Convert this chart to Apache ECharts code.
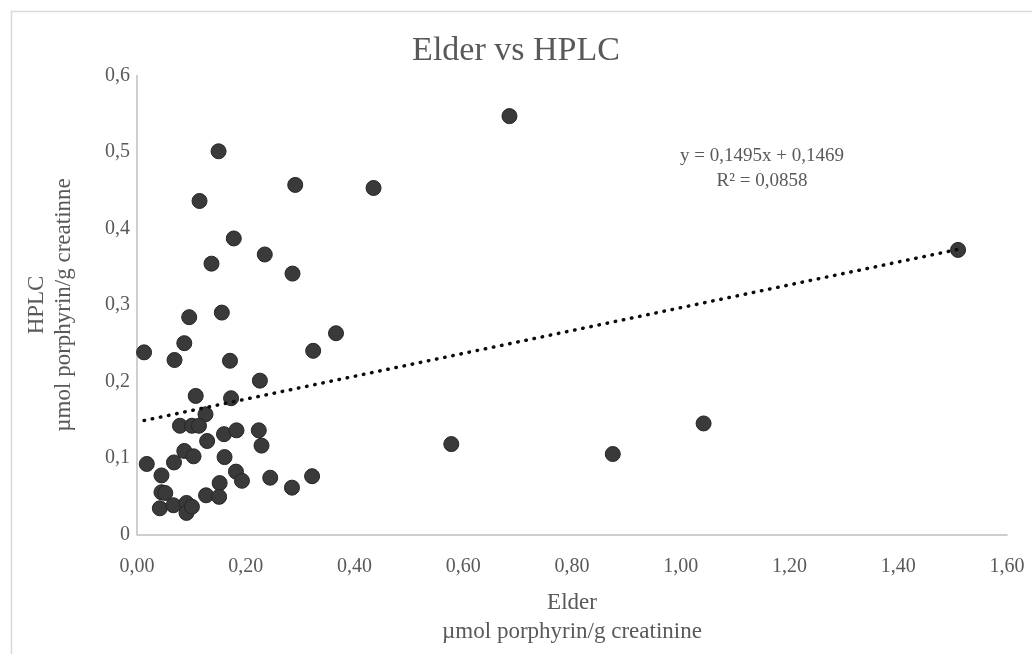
<!DOCTYPE html>
<html>
<head>
<meta charset="utf-8">
<script src="https://cdn.jsdelivr.net/npm/echarts@6/dist/echarts.min.js"></script>
<style>
html,body{margin:0;padding:0;background:#fff;}
#chart{width:1032px;height:654px;}
</style>
</head>
<body>
<div id="chart"></div>
<script>
// Elder values (x) and HPLC values (y), µmol porphyrin/g creatinine
const elder = [
  0.013, 0.087, 0.069, 0.171, 0.324, 0.366, 0.226, 0.108, 0.173, 0.126,
  0.079, 0.101, 0.114, 0.129, 0.160, 0.183, 0.224, 0.229, 0.087, 0.104,
  0.161, 0.018, 0.068, 0.045, 0.182, 0.193, 0.245, 0.285, 0.322, 0.152,
  0.045, 0.052, 0.127, 0.151, 0.042, 0.067, 0.091, 0.091, 0.101, 0.150,
  0.291, 0.435, 0.115, 0.178, 0.137, 0.235, 0.286, 0.096, 0.156,
  0.685, 0.578, 0.875, 1.042, 1.510
];
const hplc = [
  0.238, 0.250, 0.228, 0.227, 0.240, 0.263, 0.201, 0.181, 0.178, 0.157,
  0.142, 0.142, 0.142, 0.122, 0.131, 0.136, 0.136, 0.116, 0.109, 0.102,
  0.101, 0.092, 0.094, 0.077, 0.082, 0.070, 0.074, 0.061, 0.076, 0.067,
  0.055, 0.054, 0.051, 0.049, 0.034, 0.038, 0.041, 0.028, 0.036, 0.501,
  0.457, 0.453, 0.436, 0.387, 0.354, 0.366, 0.341, 0.284, 0.290,
  0.547, 0.118, 0.105, 0.145, 0.372
];
// Linear trendline as printed on the chart
const trendSlope = 0.1495;
const trendIntercept = 0.1469;
const trendLabel = ['y = 0,1495x + 0,1469', 'R² = 0,0858'];
const chartTitle = 'Elder vs HPLC';
const xName = ['Elder', 'µmol porphyrin/g creatinine'];
const yName = ['HPLC', 'µmol porphyrin/g creatinne'];

const points = elder.map((x, i) => [x, hplc[i]]);
const xMin = Math.min(...elder), xMax = Math.max(...elder);
const trend = [[xMin, trendSlope * xMin + trendIntercept], [xMax, trendSlope * xMax + trendIntercept]];

const FONT = '"Liberation Serif", "Times New Roman", serif';
const TXT = '#595959';

const chart = echarts.init(document.getElementById('chart'), null, {renderer: 'canvas'});
chart.setOption({
  backgroundColor: '#fff',
  animation: false,
  title: {
    text: chartTitle, left: 'center', top: 29,
    textStyle: {fontFamily: FONT, fontSize: 34, fontWeight: 'normal', color: TXT}
  },
  grid: {left: 137, right: 25, top: 75.6, bottom: 119.7, containLabel: false},
  xAxis: {
    type: 'value', min: 0, max: 1.6, interval: 0.2,
    name: xName.join('\n'), nameLocation: 'middle', nameGap: 54,
    nameTextStyle: {fontFamily: FONT, fontSize: 23, color: TXT, lineHeight: 29},
    axisLine: {show: true, lineStyle: {color: '#bfbfbf', width: 1.5}},
    axisTick: {show: false},
    splitLine: {show: false},
    axisLabel: {
      fontFamily: FONT, fontSize: 20, color: TXT, margin: 22,
      formatter: v => v.toFixed(2).replace('.', ',')
    }
  },
  yAxis: {
    type: 'value', min: 0, max: 0.6, interval: 0.1,
    name: yName.join('\n'), nameLocation: 'middle', nameGap: 59.5,
    nameTextStyle: {fontFamily: FONT, fontSize: 23, color: TXT, lineHeight: 27},
    axisLine: {show: true, lineStyle: {color: '#bfbfbf', width: 1.5}},
    axisTick: {show: false},
    splitLine: {show: false},
    axisLabel: {
      fontFamily: FONT, fontSize: 20, color: TXT, margin: 7,
      formatter: v => v === 0 ? '0' : v.toFixed(1).replace('.', ',')
    }
  },
  series: [
    {
      type: 'scatter', data: points, symbol: 'circle', symbolSize: 15,
      itemStyle: {color: '#3a3a3a', borderColor: '#262626', borderWidth: 1, opacity: 1},
      z: 2
    },
    {
      type: 'line', data: trend, symbol: 'none', silent: true,
      lineStyle: {color: '#0a0a14', width: 3.5, type: [0.5, 7.8], cap: 'round'},
      z: 3
    }
  ],
  graphic: [
    {
      type: 'rect', left: 9, top: 9, silent: true, z: -10,
      shape: {width: 1100, height: 700},
      style: {fill: 'none', stroke: '#d9d9d9', lineWidth: 1.5}
    },
    {
      type: 'text', x: 762, y: 156, silent: true,
      style: {text: trendLabel[0], fontFamily: FONT, fontSize: 19, fill: TXT, align: 'center', verticalAlign: 'middle'}
    },
    {
      type: 'text', x: 762, y: 181, silent: true,
      style: {text: trendLabel[1], fontFamily: FONT, fontSize: 19, fill: TXT, align: 'center', verticalAlign: 'middle'}
    }
  ]
});
</script>
</body>
</html>
